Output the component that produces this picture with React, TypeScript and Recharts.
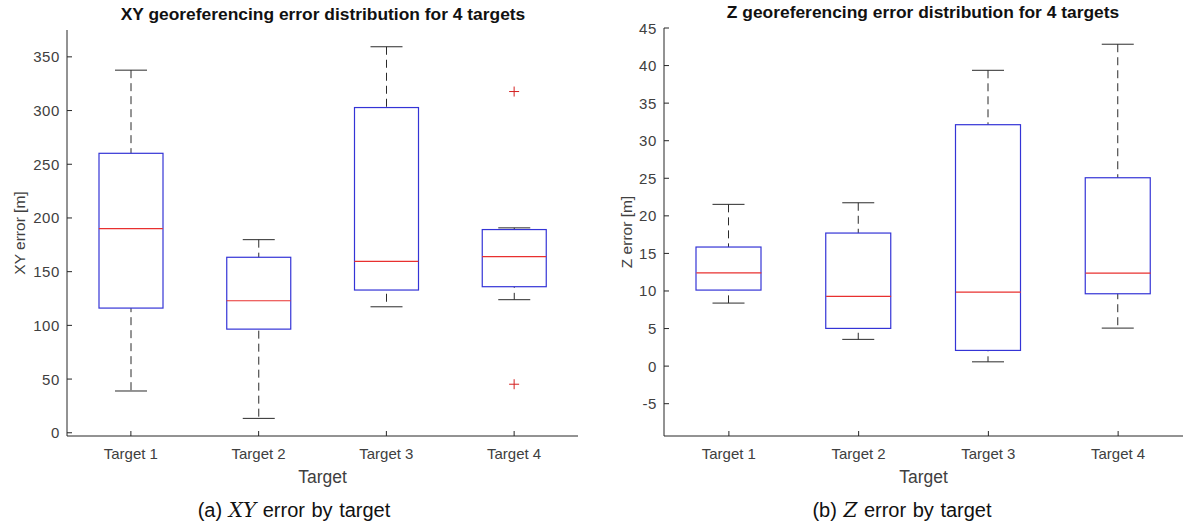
import React from "react";
import { Bar, ComposedChart, Scatter, XAxis, YAxis } from "recharts";

const targets = ["Target 1", "Target 2", "Target 3", "Target 4"];

// XY georeferencing error [m], one entry per target
const xyMin = [38.9, 13.4, 117.3, 123.9];
const xyQ1 = [116.1, 96.5, 132.9, 136.0];
const xyMedian = [190.1, 122.9, 159.6, 164.0];
const xyQ3 = [260.2, 163.4, 302.8, 189.2];
const xyMax = [337.6, 179.8, 359.4, 190.8];
const xyOutHigh = [null, null, null, 317.7];
const xyOutLow = [null, null, null, 45.2];
const xyTicks = [0, 50, 100, 150, 200, 250, 300, 350];

// Z georeferencing error [m]
const zMin = [8.39, 3.56, 0.57, 5.06];
const zQ1 = [10.12, 5.02, 2.09, 9.63];
const zMedian = [12.42, 9.28, 9.85, 12.38];
const zQ3 = [15.85, 17.71, 32.13, 25.07];
const zMax = [21.53, 21.74, 39.37, 42.84];
const zOutHigh = [null, null, null, null];
const zOutLow = [null, null, null, null];
const zTicks = [-5, 0, 5, 10, 15, 20, 25, 30, 35, 40, 45];

const FONT = "'Liberation Sans', Arial, Helvetica, sans-serif";
const AXIS = "#262626";
const BOX = "#3434d6";
const MED = "#e8302f";
const LABEL = "#404040";

type Row = {
  name: string;
  whisker: [number, number];
  box: [number, number];
  med: number;
  outHigh: number | null;
  outLow: number | null;
};

function buildRows(
  min: number[],
  q1: number[],
  med: number[],
  q3: number[],
  max: number[],
  hi: (number | null)[],
  lo: (number | null)[],
): Row[] {
  return targets.map((name, i) => ({
    name,
    whisker: [min[i], max[i]],
    box: [q1[i], q3[i]],
    med: med[i],
    outHigh: hi[i],
    outLow: lo[i],
  }));
}

const xyRows = buildRows(xyMin, xyQ1, xyMedian, xyQ3, xyMax, xyOutHigh, xyOutLow);
const zRows = buildRows(zMin, zQ1, zMedian, zQ3, zMax, zOutHigh, zOutLow);

const WhiskerShape = (props: any) => {
  const { x, y, width, height } = props;
  const cx = x + width / 2;
  const top = Math.min(y, y + height);
  const bottom = Math.max(y, y + height);
  return (
    <g>
      <line x1={cx} x2={cx} y1={top} y2={bottom} stroke="#2b2b2b" strokeDasharray="8 5" />
      <line x1={cx - 16} x2={cx + 16} y1={top} y2={top} stroke="#2b2b2b" />
      <line x1={cx - 16} x2={cx + 16} y1={bottom} y2={bottom} stroke="#2b2b2b" />
    </g>
  );
};

const BoxShape = (props: any) => {
  const { x, y, width, height } = props;
  const top = Math.min(y, y + height);
  return (
    <rect
      x={x}
      y={top}
      width={width}
      height={Math.abs(height)}
      fill="#ffffff"
      stroke={BOX}
      strokeWidth={1.2}
    />
  );
};

const medianShape = (half: number) => (props: any) => {
  const { cx, cy } = props;
  return <line x1={cx - half} x2={cx + half} y1={cy} y2={cy} stroke={MED} strokeWidth={1.2} />;
};

const outlierShape = (key: "outHigh" | "outLow") => (props: any) => {
  const { cx, cy, payload } = props;
  if (!payload || payload[key] == null) return <g />;
  return (
    <g stroke="#d42020" strokeWidth={1}>
      <line x1={cx - 5} x2={cx + 5} y1={cy} y2={cy} />
      <line x1={cx} x2={cx} y1={cy - 5} y2={cy + 5} />
    </g>
  );
};

const LeftTick = (props: any) => {
  const { x, y, payload } = props;
  return (
    <g>
      <text
        x={x}
        y={y}
        textAnchor="end"
        dominantBaseline="central"
        fontFamily={FONT}
        fontSize={15}
        letterSpacing={0.6}
        fill={LABEL}
      >
        {payload.value}
      </text>
      <line x1={x + 7} x2={x + 12} y1={y} y2={y} stroke={AXIS} />
    </g>
  );
};

const RightTick = (props: any) => {
  const { x, y } = props;
  return <line x1={x} x2={x - 5} y1={y} y2={y} stroke={AXIS} />;
};

const TopTick = (props: any) => {
  const { x, y } = props;
  return <line x1={x} x2={x} y1={y} y2={y + 5} stroke={AXIS} />;
};

const BottomTick = (props: any) => {
  const { x, y, payload } = props;
  return (
    <g>
      <text
        x={x}
        y={y}
        textAnchor="middle"
        dominantBaseline="hanging"
        fontFamily={FONT}
        fontSize={15}
        fill={LABEL}
      >
        {payload.value}
      </text>
      <line x1={x} x2={x} y1={y - 12} y2={y - 17} stroke={AXIS} />
    </g>
  );
};

function BoxPlot({
  rows,
  ticks,
  domain,
  yLabel,
  yLabelX,
  axisWidth,
  rightMargin,
  top,
  boxWidth,
}: {
  rows: Row[];
  ticks: number[];
  domain: [number, number];
  yLabel: string;
  yLabelX: number;
  axisWidth: number;
  rightMargin: number;
  top: number;
  boxWidth: number;
}) {
  return (
    <ComposedChart
      width={592}
      height={529}
      data={rows}
      margin={{ top, right: rightMargin, bottom: 0, left: 0 }}
      barSize={boxWidth}
      barGap={-boxWidth}
    >
      <XAxis
        dataKey="name"
        height={93}
        tickLine={false}
        tickSize={0}
        tickMargin={12}
        interval={0}
        axisLine={{ stroke: AXIS }}
        tick={<BottomTick />}
        label={{
          content: (p: any) => (
            <text
              x={p.viewBox.x + p.viewBox.width / 2}
              y={p.viewBox.y + 47}
              textAnchor="middle"
              fontFamily={FONT}
              fontSize={17.5}
              fill={LABEL}
            >
              Target
            </text>
          ),
        }}
      />
      <XAxis
        xAxisId="top"
        orientation="top"
        dataKey="name"
        height={0}
        tickLine={false}
        tickSize={0}
        tickMargin={0}
        interval={0}
        axisLine={{ stroke: AXIS }}
        tick={<TopTick />}
      />
      <YAxis
        type="number"
        domain={domain}
        ticks={ticks}
        allowDataOverflow
        width={axisWidth}
        tickLine={false}
        tickSize={0}
        tickMargin={7}
        interval={0}
        axisLine={{ stroke: AXIS }}
        tick={<LeftTick />}
        label={{
          content: (p: any) => {
            const cx = p.viewBox.x + yLabelX;
            const cy = p.viewBox.y + p.viewBox.height / 2;
            return (
              <text
                x={cx}
                y={cy}
                transform={`rotate(-90, ${cx}, ${cy})`}
                textAnchor="middle"
                dominantBaseline="central"
                fontFamily={FONT}
                fontSize={15.5}
                fill={LABEL}
              >
                {yLabel}
              </text>
            );
          },
        }}
      />
      <YAxis
        yAxisId="r"
        orientation="right"
        type="number"
        domain={domain}
        ticks={ticks}
        allowDataOverflow
        width={0}
        tickLine={false}
        tickSize={0}
        tickMargin={0}
        interval={0}
        axisLine={{ stroke: AXIS }}
        tick={<RightTick />}
      />
      <Bar dataKey="whisker" shape={<WhiskerShape />} isAnimationActive={false} />
      <Bar dataKey="box" shape={<BoxShape />} isAnimationActive={false} />
      <Scatter
        dataKey="med"
        xAxisId="top"
        yAxisId="r"
        shape={medianShape(boxWidth / 2)}
        isAnimationActive={false}
      />
      <Scatter dataKey="outHigh" shape={outlierShape("outHigh")} isAnimationActive={false} />
      <Scatter dataKey="outLow" shape={outlierShape("outLow")} isAnimationActive={false} />
    </ComposedChart>
  );
}

const titleStyle: React.CSSProperties = {
  position: "absolute",
  fontFamily: FONT,
  fontWeight: "bold",
  fontSize: 17.4,
  color: "#111",
  whiteSpace: "nowrap",
  transform: "translateX(-50%)",
};

const captionStyle: React.CSSProperties = {
  position: "absolute",
  fontFamily: FONT,
  fontSize: 20,
  wordSpacing: 1,
  color: "#111",
  whiteSpace: "nowrap",
  transform: "translateX(-50%)",
};

const mathStyle: React.CSSProperties = {
  fontFamily: "'DejaVu Serif', 'Liberation Serif', serif",
  fontStyle: "italic",
};

export default function App() {
  return (
    <div
      style={{
        position: "absolute",
        left: 0,
        top: 0,
        width: 1184,
        height: 529,
        background: "#ffffff",
        overflow: "hidden",
      }}
    >
      <div style={{ position: "absolute", left: 0, top: 0 }}>
        <BoxPlot
          rows={xyRows}
          ticks={xyTicks}
          domain={[-3, 375]}
          yLabel="XY error [m]"
          yLabelX={19}
          axisWidth={67}
          rightMargin={14}
          top={30}
          boxWidth={64}
        />
      </div>
      <div style={{ position: "absolute", left: 592, top: 0 }}>
        <BoxPlot
          rows={zRows}
          ticks={zTicks}
          domain={[-9.3, 45]}
          yLabel="Z error [m]"
          yLabelX={34}
          axisWidth={72}
          rightMargin={1}
          top={28}
          boxWidth={65}
        />
      </div>
      <div style={{ ...titleStyle, left: 323, top: 4 }}>
        XY georeferencing error distribution for 4 targets
      </div>
      <div style={{ ...titleStyle, left: 923, top: 2 }}>
        Z georeferencing error distribution for 4 targets
      </div>
      <div style={{ ...captionStyle, left: 294, top: 498 }}>
        (a) <span style={mathStyle}>XY</span> error by target
      </div>
      <div style={{ ...captionStyle, left: 902, top: 498 }}>
        (b) <span style={mathStyle}>Z</span> error by target
      </div>
    </div>
  );
}
